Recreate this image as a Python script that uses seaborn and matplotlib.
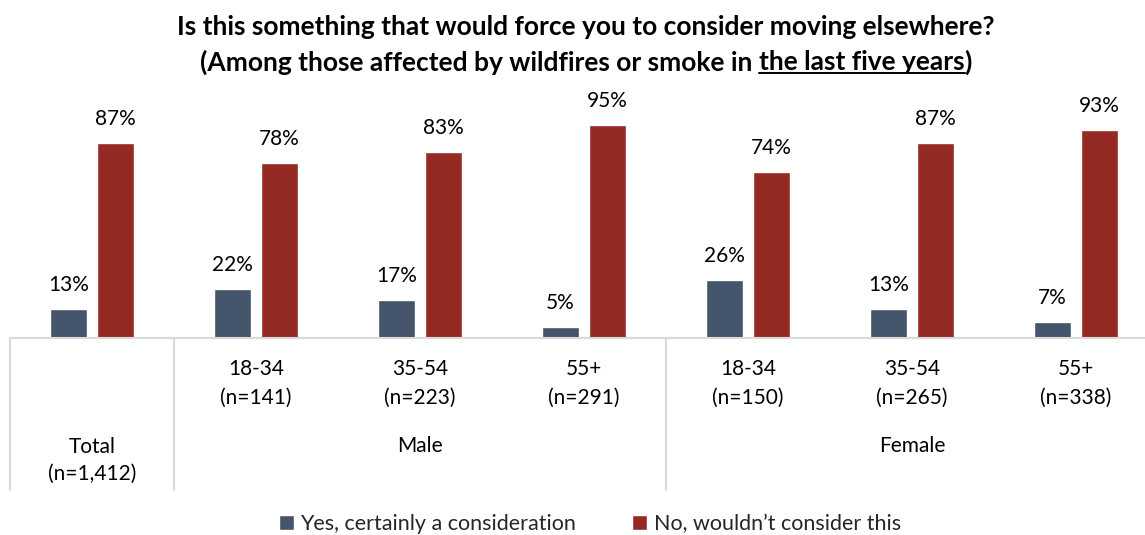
import matplotlib
matplotlib.use("Agg")
import matplotlib.pyplot as plt
import seaborn as sns
import pandas as pd

# Survey results by segment
segments = ["Total", "Male 18-34", "Male 35-54", "Male 55+",
            "Female 18-34", "Female 35-54", "Female 55+"]
tick_labels = ["", "18-34\n(n=141)", "35-54\n(n=223)", "55+\n(n=291)",
               "18-34\n(n=150)", "35-54\n(n=265)", "55+\n(n=338)"]
yes_values = [13, 22, 17, 5, 26, 13, 7]
no_values = [87, 78, 83, 95, 74, 87, 93]
series_names = ["Yes, certainly a consideration", "No, wouldn\u2019t consider this"]
group_labels = [("Total\n(n=1,412)", 0, 460), ("Male", 2, 446), ("Female", 5, 446)]

colors = ["#44546A", "#952A24"]
grid_color = "#D9D9D9"

df = pd.DataFrame({
    "segment": segments * 2,
    "value": yes_values + no_values,
    "answer": [series_names[0]] * len(segments) + [series_names[1]] * len(segments),
})

sns.set_theme(style="white")
plt.rcParams["font.family"] = ["Lato", "DejaVu Sans"]

fig = plt.figure(figsize=(11.45, 5.35), dpi=100)
W, H = 1145, 535
x0, base, top = 10, 338, 114
cat_w = 164
ax = fig.add_axes([x0 / W, 1 - base / H, 7 * cat_w / W, (base - top) / H])

sns.barplot(data=df, x="segment", y="value", hue="answer", order=segments,
            hue_order=series_names, palette=colors, width=0.573, gap=0.21,
            saturation=1, ax=ax, legend=True)

ax.set_xlim(-0.5, 6.5)
ax.set_ylim(0, 100)
ax.set_xlabel("")
ax.set_ylabel("")
ax.set_yticks([])
for side in ["left", "right", "top"]:
    ax.spines[side].set_visible(False)
ax.spines["bottom"].set_color(grid_color)
ax.spines["bottom"].set_linewidth(1.5)

# Value labels above bars
for container in ax.containers:
    ax.bar_label(container, labels=[f"{v:.0f}%" for v in container.datavalues],
                 padding=10, fontsize=15, color="#000000")

# Age-band tick labels
ax.set_xticks(range(len(segments)))
ax.set_xticklabels(tick_labels, fontsize=15, color="#000000", linespacing=1.55)
ax.tick_params(axis="x", length=0, pad=15)

# Group labels and separators below the axis
trans = ax.get_xaxis_transform()
px = 1.0 / (base - top)
for text, xpos, ypix in group_labels:
    ax.text(xpos, -(ypix - base) * px, text, transform=trans, ha="center",
            va="center", fontsize=15, color="#000000", linespacing=1.42)
for xsep in [-0.5, 0.5, 3.5]:
    ax.plot([xsep, xsep], [0, -(490 - base) * px], transform=trans,
            color=grid_color, lw=1.5, clip_on=False)

# Legend
handles, labels = ax.get_legend_handles_labels()
ax.get_legend().remove()
fig.legend(handles, labels, loc="center", bbox_to_anchor=(590 / W, 1 - 524 / H),
           ncol=2, frameon=False, fontsize=15.5, handlelength=0.7,
           handleheight=0.7, handletextpad=0.3, columnspacing=2.6)

# Title, with the time frame underlined
title_x = 586 / W
title_size = 19
fig.text(title_x, 1 - 27 / H, "Is this something that would force you to consider moving elsewhere?",
         ha="center", va="center", fontsize=title_size, fontweight="bold", color="#000000")

parts = ["(Among those affected by wildfires or smoke in ", "the last five years", ")"]
y2 = 1 - 62 / H
fig.canvas.draw()
renderer = fig.canvas.get_renderer()
widths = []
for p in parts:
    t = fig.text(0, 0, p, fontsize=title_size, fontweight="bold")
    widths.append(t.get_window_extent(renderer).width)
    t.remove()
total_w = sum(widths)
start = title_x * W - total_w / 2
cursor = start
for i, p in enumerate(parts):
    t = fig.text(cursor / W, y2, p, ha="left", va="center", fontsize=title_size,
                 fontweight="bold", color="#000000")
    if i == 1:
        bb = t.get_window_extent(renderer)
        uy = (bb.y0 + 1) / H
        fig.add_artist(plt.Line2D([cursor / W, (cursor + widths[i]) / W], [uy, uy],
                                  color="#000000", lw=1.4))
    cursor += widths[i]

fig.savefig("out.png", dpi=100)
